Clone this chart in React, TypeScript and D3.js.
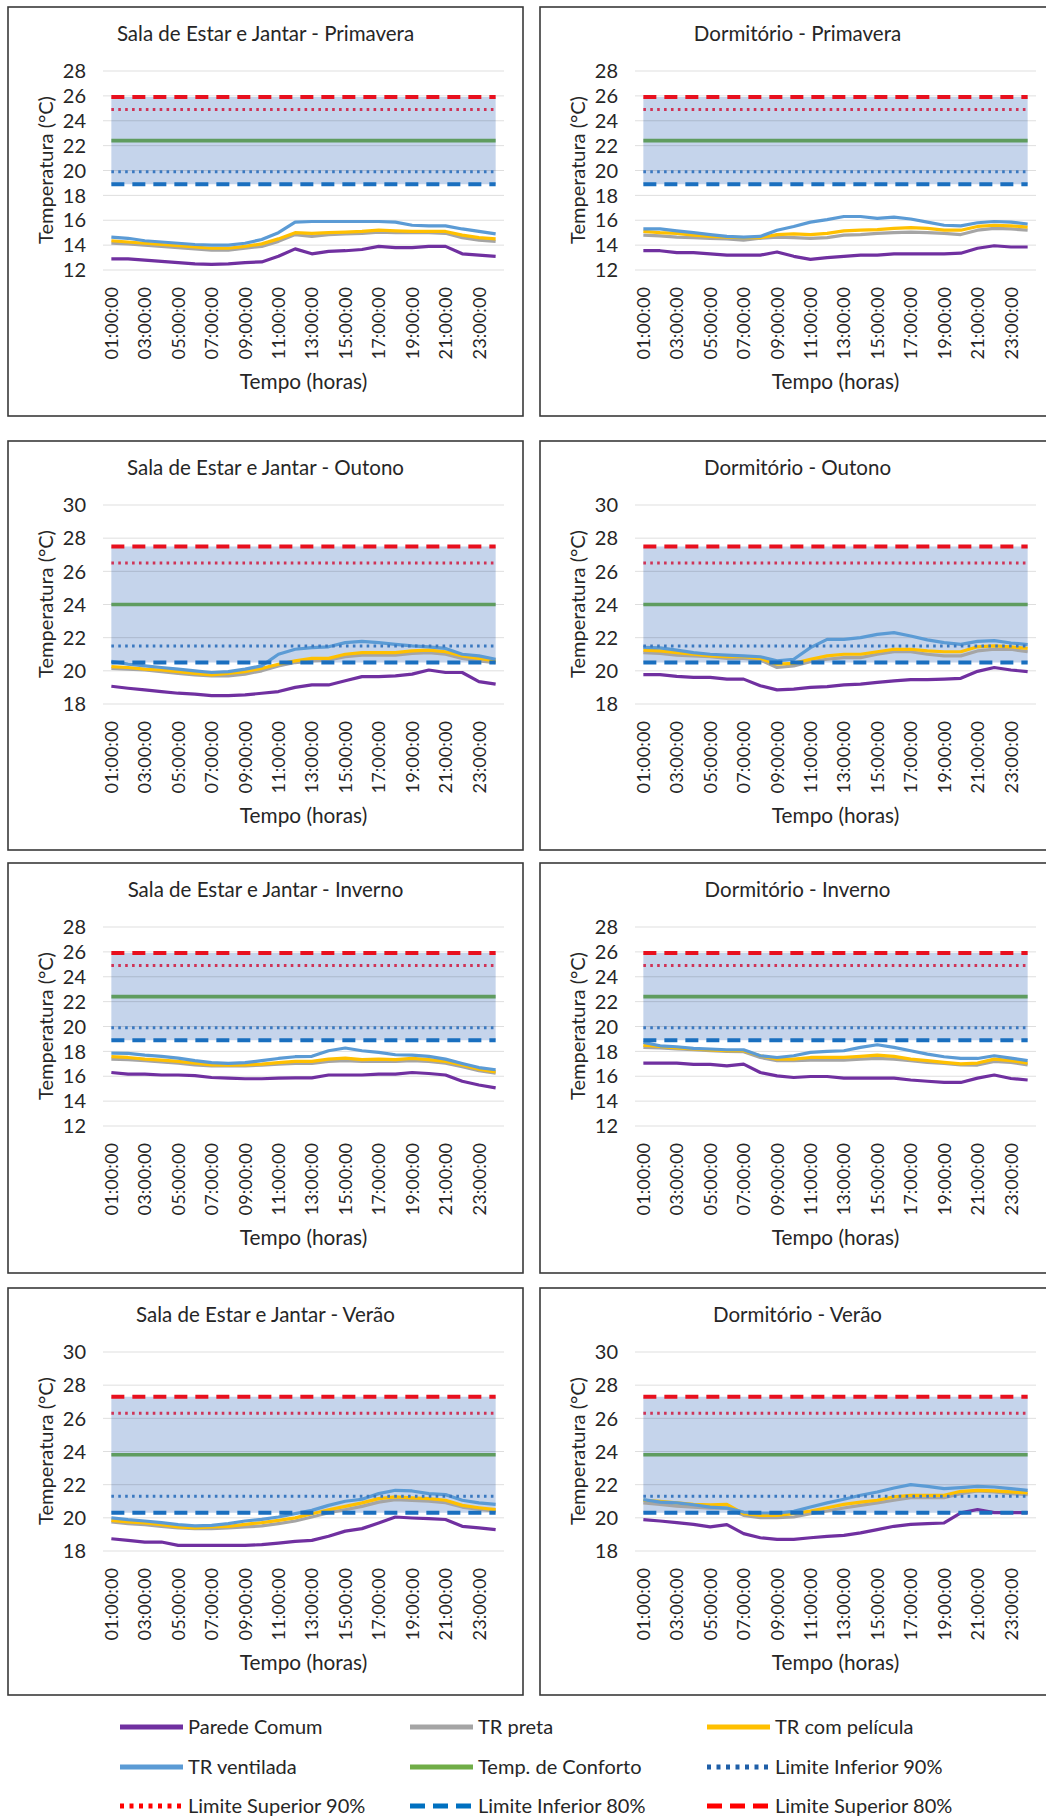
import React from 'react';
import * as d3 from 'd3';

const hours = ['01:00:00','02:00:00','03:00:00','04:00:00','05:00:00','06:00:00','07:00:00','08:00:00','09:00:00','10:00:00','11:00:00','12:00:00','13:00:00','14:00:00','15:00:00','16:00:00','17:00:00','18:00:00','19:00:00','20:00:00','21:00:00','22:00:00','23:00:00','24:00:00'];
const tickHours = ['01:00:00','03:00:00','05:00:00','07:00:00','09:00:00','11:00:00','13:00:00','15:00:00','17:00:00','19:00:00','21:00:00','23:00:00'];

// limits: [inferior 80%, inferior 90%, conforto, superior 90%, superior 80%]
const limitsPrimavera = [18.9, 19.9, 22.4, 24.9, 25.9];
const limitsOutono = [20.5, 21.5, 24.0, 26.5, 27.5];
const limitsInverno = [18.9, 19.9, 22.4, 24.9, 25.9];
const limitsVerao = [20.3, 21.3, 23.8, 26.3, 27.3];

const ticksLow = [12, 14, 16, 18, 20, 22, 24, 26, 28];
const ticksHigh = [18, 20, 22, 24, 26, 28, 30];

// Sala Primavera
const salaPrimParede = [12.9,12.9,12.8,12.7,12.6,12.5,12.45,12.5,12.6,12.65,13.1,13.7,13.3,13.5,13.55,13.65,13.9,13.8,13.8,13.9,13.9,13.3,13.2,13.1];
const salaPrimPreta = [14.15,14.1,14.0,13.9,13.8,13.7,13.6,13.6,13.75,13.9,14.3,14.85,14.7,14.85,14.9,14.95,15.05,15.0,15.0,15.0,14.95,14.6,14.4,14.3];
const salaPrimPelicula = [14.35,14.25,14.15,14.05,13.95,13.85,13.75,13.75,13.9,14.1,14.5,15.0,14.95,15.0,15.05,15.1,15.2,15.15,15.1,15.1,15.1,14.8,14.6,14.5];
const salaPrimVentilada = [14.65,14.55,14.35,14.25,14.15,14.05,14.0,14.0,14.15,14.45,15.0,15.85,15.9,15.9,15.9,15.9,15.9,15.85,15.6,15.55,15.55,15.3,15.1,14.9];
// Dormitório Primavera
const dormPrimParede = [13.55,13.55,13.4,13.4,13.3,13.2,13.2,13.2,13.45,13.1,12.85,13.0,13.1,13.2,13.2,13.3,13.3,13.3,13.3,13.35,13.75,13.95,13.85,13.85];
const dormPrimPreta = [14.8,14.75,14.65,14.6,14.55,14.5,14.4,14.55,14.65,14.6,14.55,14.6,14.8,14.85,14.95,15.0,15.05,15.0,14.95,14.85,15.2,15.35,15.3,15.2];
const dormPrimPelicula = [15.1,15.0,14.95,14.8,14.7,14.65,14.6,14.6,14.85,14.9,14.85,14.95,15.15,15.2,15.25,15.35,15.4,15.35,15.2,15.2,15.5,15.6,15.55,15.45];
const dormPrimVentilada = [15.3,15.3,15.15,15.0,14.85,14.7,14.65,14.7,15.2,15.5,15.85,16.05,16.3,16.3,16.15,16.25,16.1,15.85,15.6,15.55,15.8,15.9,15.85,15.7];
// Sala Outono
const salaOutParede = [19.07,18.95,18.85,18.75,18.65,18.6,18.5,18.5,18.55,18.65,18.75,19.0,19.15,19.15,19.4,19.65,19.65,19.7,19.8,20.05,19.9,19.9,19.35,19.2];
const salaOutPreta = [20.15,20.1,20.05,19.95,19.85,19.75,19.7,19.7,19.8,20.0,20.3,20.5,20.6,20.65,20.85,20.95,20.95,20.95,21.05,21.1,21.0,20.75,20.6,20.5];
const salaOutPelicula = [20.25,20.2,20.1,20.05,19.95,19.85,19.75,19.85,19.95,20.15,20.4,20.6,20.75,20.75,21.0,21.1,21.1,21.1,21.2,21.25,21.15,20.9,20.75,20.6];
const salaOutVentilada = [20.57,20.4,20.3,20.2,20.1,20.0,19.9,19.95,20.1,20.3,21.0,21.3,21.4,21.45,21.7,21.78,21.7,21.6,21.5,21.45,21.35,21.0,20.9,20.7];
// Dormitório Outono
const dormOutParede = [19.77,19.77,19.67,19.6,19.6,19.5,19.5,19.1,18.85,18.9,19.0,19.05,19.15,19.2,19.3,19.4,19.47,19.47,19.5,19.55,19.97,20.2,20.05,19.95];
const dormOutPreta = [21.1,21.05,20.95,20.9,20.85,20.75,20.75,20.65,20.2,20.3,20.55,20.7,20.8,20.8,21.0,21.15,21.15,21.0,20.9,20.9,21.2,21.3,21.3,21.15];
const dormOutPelicula = [21.25,21.2,21.1,21.0,20.9,20.85,20.85,20.75,20.4,20.45,20.7,20.9,21.0,21.0,21.15,21.3,21.3,21.2,21.15,21.15,21.45,21.5,21.45,21.35];
const dormOutVentilada = [21.42,21.38,21.25,21.1,21.0,20.95,20.9,20.85,20.6,20.7,21.4,21.9,21.9,22.0,22.2,22.3,22.1,21.87,21.7,21.6,21.78,21.82,21.68,21.58];
// Sala Inverno
const salaInvParede = [16.3,16.17,16.17,16.1,16.1,16.05,15.9,15.85,15.8,15.8,15.85,15.87,15.87,16.1,16.1,16.1,16.17,16.17,16.3,16.22,16.1,15.6,15.3,15.07];
const salaInvPreta = [17.38,17.33,17.25,17.16,17.06,16.92,16.84,16.84,16.84,16.9,16.98,17.03,17.03,17.19,17.25,17.19,17.19,17.19,17.25,17.19,17.06,16.76,16.44,16.25];
const salaInvPelicula = [17.57,17.51,17.38,17.3,17.19,17.06,16.92,16.9,16.92,16.98,17.1,17.19,17.19,17.38,17.46,17.33,17.38,17.33,17.43,17.33,17.19,16.9,16.57,16.35];
const salaInvVentilada = [17.86,17.84,17.7,17.6,17.46,17.25,17.1,17.03,17.1,17.25,17.43,17.57,17.6,18.05,18.27,18.05,17.92,17.73,17.7,17.6,17.38,17.03,16.7,16.52];
// Dormitório Inverno
const dormInvParede = [17.06,17.06,17.06,16.95,16.95,16.84,16.97,16.3,16.03,15.9,15.98,15.98,15.85,15.85,15.85,15.85,15.7,15.6,15.5,15.5,15.85,16.1,15.82,15.7];
const dormInvPreta = [18.32,18.27,18.19,18.13,18.05,18.0,17.97,17.51,17.25,17.25,17.3,17.3,17.3,17.38,17.43,17.38,17.25,17.11,17.03,16.92,16.9,17.19,17.11,16.92];
const dormInvPelicula = [18.51,18.4,18.27,18.19,18.11,18.05,18.05,17.65,17.38,17.38,17.51,17.51,17.51,17.6,17.7,17.6,17.38,17.25,17.11,17.0,17.06,17.38,17.25,17.06];
const dormInvVentilada = [18.72,18.45,18.37,18.24,18.19,18.13,18.13,17.65,17.51,17.65,17.92,18.0,18.05,18.32,18.53,18.32,18.05,17.78,17.57,17.43,17.43,17.65,17.46,17.25];
// Sala Verão
const salaVerParede = [18.74,18.64,18.54,18.54,18.34,18.34,18.34,18.34,18.34,18.38,18.48,18.58,18.64,18.89,19.2,19.35,19.69,20.05,19.99,19.95,19.9,19.49,19.4,19.29];
const salaVerPreta = [19.75,19.65,19.59,19.49,19.39,19.35,19.35,19.39,19.45,19.51,19.65,19.81,20.05,20.31,20.49,20.69,20.95,21.09,21.05,21.01,20.91,20.65,20.51,20.41];
const salaVerPelicula = [19.85,19.75,19.69,19.59,19.45,19.4,19.45,19.49,19.61,19.71,19.85,20.0,20.25,20.49,20.69,20.9,21.16,21.26,21.2,21.16,21.06,20.75,20.61,20.49];
const salaVerVentilada = [20.0,19.89,19.81,19.71,19.59,19.51,19.55,19.65,19.81,19.91,20.05,20.25,20.45,20.75,21.0,21.12,21.46,21.66,21.62,21.46,21.4,21.06,20.9,20.81];
// Dormitório Verão
const dormVerParede = [19.89,19.81,19.71,19.61,19.45,19.59,19.05,18.8,18.7,18.7,18.8,18.88,18.94,19.09,19.29,19.49,19.61,19.65,19.69,20.3,20.5,20.31,20.31,20.31];
const dormVerPreta = [20.9,20.81,20.71,20.65,20.59,20.59,20.15,20.01,20.01,20.05,20.25,20.41,20.59,20.75,20.9,21.06,21.22,21.22,21.22,21.46,21.62,21.56,21.46,21.4];
const dormVerPelicula = [21.06,21.0,20.9,20.81,20.79,20.81,20.25,20.15,20.15,20.25,20.41,20.61,20.81,20.95,21.06,21.26,21.36,21.36,21.36,21.6,21.66,21.62,21.56,21.5];
const dormVerVentilada = [21.1,20.95,20.9,20.79,20.65,20.59,20.35,20.29,20.29,20.39,20.65,20.9,21.12,21.36,21.56,21.8,22.0,21.9,21.76,21.82,21.9,21.86,21.76,21.66];

const panels = [
  { title: 'Sala de Estar e Jantar - Primavera', domain: [12, 28], ticks: ticksLow, limits: limitsPrimavera, parede: salaPrimParede, preta: salaPrimPreta, pelicula: salaPrimPelicula, ventilada: salaPrimVentilada },
  { title: 'Dormitório  - Primavera', domain: [12, 28], ticks: ticksLow, limits: limitsPrimavera, parede: dormPrimParede, preta: dormPrimPreta, pelicula: dormPrimPelicula, ventilada: dormPrimVentilada },
  { title: 'Sala de Estar e Jantar - Outono', domain: [18, 30], ticks: ticksHigh, limits: limitsOutono, parede: salaOutParede, preta: salaOutPreta, pelicula: salaOutPelicula, ventilada: salaOutVentilada },
  { title: 'Dormitório  - Outono', domain: [18, 30], ticks: ticksHigh, limits: limitsOutono, parede: dormOutParede, preta: dormOutPreta, pelicula: dormOutPelicula, ventilada: dormOutVentilada },
  { title: 'Sala de Estar e Jantar - Inverno', domain: [12, 28], ticks: ticksLow, limits: limitsInverno, parede: salaInvParede, preta: salaInvPreta, pelicula: salaInvPelicula, ventilada: salaInvVentilada },
  { title: 'Dormitório  - Inverno', domain: [12, 28], ticks: ticksLow, limits: limitsInverno, parede: dormInvParede, preta: dormInvPreta, pelicula: dormInvPelicula, ventilada: dormInvVentilada },
  { title: 'Sala de Estar e Jantar - Verão', domain: [18, 30], ticks: ticksHigh, limits: limitsVerao, parede: salaVerParede, preta: salaVerPreta, pelicula: salaVerPelicula, ventilada: salaVerVentilada },
  { title: 'Dormitório  - Verão', domain: [18, 30], ticks: ticksHigh, limits: limitsVerao, parede: dormVerParede, preta: dormVerPreta, pelicula: dormVerPelicula, ventilada: dormVerVentilada },
];

const legendItems = [
  { label: 'Parede Comum', color: '#7030a0', dash: null },
  { label: 'TR preta', color: '#a5a5a5', dash: null },
  { label: 'TR com película', color: '#ffc000', dash: null },
  { label: 'TR ventilada', color: '#5b9bd5', dash: null },
  { label: 'Temp. de Conforto', color: '#70ad47', dash: null },
  { label: 'Limite Inferior 90%', color: '#1f5fa8', dash: 'dot' },
  { label: 'Limite Superior 90%', color: '#ff0000', dash: 'dot' },
  { label: 'Limite Inferior 80%', color: '#0070c0', dash: 'dash' },
  { label: 'Limite Superior 80%', color: '#ff0000', dash: 'dash' },
];

const FONT = "Lato, 'Open Sans', sans-serif";
const TXT = '#262626';

const colX = [8, 540];
const panelW = 515;
const rowY = [7, 441, 863, 1288];
const rowH = [409, 409, 410, 407];

function Panel({ p, col, row }: any) {
  const x0 = colX[col];
  const y0 = rowY[row];
  const plotL = x0 + 95;
  const plotR = x0 + 496;
  const yTop = y0 + 64;
  const yBot = y0 + 263;
  const x = d3.scalePoint<string>().domain(hours).range([plotL, plotR]).padding(0.5);
  const y = d3.scaleLinear().domain(p.domain).range([yBot, yTop]);
  const line = d3.line<number>().x((_, i) => x(hours[i]) as number).y((d) => y(d));
  const flat = (v: number) => hours.map(() => v);
  const [l80, l90, conf, u90, u80] = p.limits;
  const area = d3
    .area<string>()
    .x((h) => x(h) as number)
    .y0(() => y(l80))
    .y1(() => y(u80));
  const cx = (plotL + plotR) / 2;
  return (
    <g>
      <rect x={x0} y={y0} width={panelW} height={rowH[row]} fill="#fff" stroke="#3a3a3a" strokeWidth={1.6} />
      <text x={x0 + panelW / 2} y={y0 + 33.5} textAnchor="middle" fontSize={20.5} fontFamily={FONT} fill={TXT}>
        {p.title}
      </text>
      <path d={area(hours) as string} fill="#c5d4eb" />
      {p.ticks.map((t: number) => (
        <g key={t}>
          <line x1={plotL} x2={plotR} y1={y(t)} y2={y(t)} stroke="#000" strokeOpacity={0.13} strokeWidth={1} />
          <text x={x0 + 78} y={y(t)} dy="0.36em" textAnchor="end" fontSize={20} fontFamily={FONT} fill={TXT}>
            {t}
          </text>
        </g>
      ))}
      {tickHours.map((h) => (
        <text
          key={h}
          transform={`translate(${x(h)},${y0 + 280}) rotate(-90)`}
          dy="0.36em"
          textAnchor="end"
          fontSize={18.2}
          fontFamily={FONT}
          fill={TXT}
        >
          {h}
        </text>
      ))}
      <text x={cx} y={y0 + 381.5} textAnchor="middle" fontSize={20.8} fontFamily={FONT} fill={TXT}>
        Tempo (horas)
      </text>
      <text
        transform={`translate(${x0 + 37.5},${y0 + 163}) rotate(-90)`}
        dy="0.36em"
        textAnchor="middle"
        fontSize={20}
        fontFamily={FONT}
        fill={TXT}
      >
        Temperatura (°C)
      </text>
      <path d={line(p.parede) as string} fill="none" stroke="#7030a0" strokeWidth={3.2} strokeLinejoin="round" />
      <path d={line(p.preta) as string} fill="none" stroke="#a5a5a5" strokeWidth={3.2} strokeLinejoin="round" />
      <path d={line(p.pelicula) as string} fill="none" stroke="#ffc000" strokeWidth={3.2} strokeLinejoin="round" />
      <path d={line(p.ventilada) as string} fill="none" stroke="#5b9bd5" strokeWidth={3.2} strokeLinejoin="round" />
      <path d={line(flat(conf)) as string} fill="none" stroke="#5f9c5f" strokeWidth={3.6} />
      <path d={line(flat(l90)) as string} fill="none" stroke="#3a78c0" strokeWidth={3} strokeDasharray="2.6 4.3" />
      <path d={line(flat(u90)) as string} fill="none" stroke="#cf3356" strokeWidth={3} strokeDasharray="2.6 4.3" />
      <path d={line(flat(l80)) as string} fill="none" stroke="#1a6fbf" strokeWidth={4} strokeDasharray="13 8" />
      <path d={line(flat(u80)) as string} fill="none" stroke="#e8101e" strokeWidth={4} strokeDasharray="13 8" />
    </g>
  );
}

function Legend() {
  const colStart = [120, 410, 707];
  const rowsY = [1727, 1767, 1806];
  return (
    <g>
      {legendItems.map((it, i) => {
        const c = i % 3;
        const r = Math.floor(i / 3);
        const lx = colStart[c];
        const ly = rowsY[r];
        const dash = it.dash === 'dot' ? '4 5.5' : it.dash === 'dash' ? '15 8' : undefined;
        return (
          <g key={it.label}>
            <line x1={lx} x2={lx + 63} y1={ly} y2={ly} stroke={it.color} strokeWidth={4.8} strokeDasharray={dash} />
            <text x={lx + 68} y={ly} dy="0.36em" fontSize={20} fontFamily={FONT} fill={TXT}>
              {it.label}
            </text>
          </g>
        );
      })}
    </g>
  );
}

export default function App() {
  return (
    <svg width={1046} height={1816} style={{ position: 'absolute', left: 0, top: 0, background: '#fff' }}>
      <rect x={0} y={0} width={1046} height={1816} fill="#fff" />
      {panels.map((p, i) => (
        <Panel key={i} p={p} col={i % 2} row={Math.floor(i / 2)} />
      ))}
      <Legend />
    </svg>
  );
}
